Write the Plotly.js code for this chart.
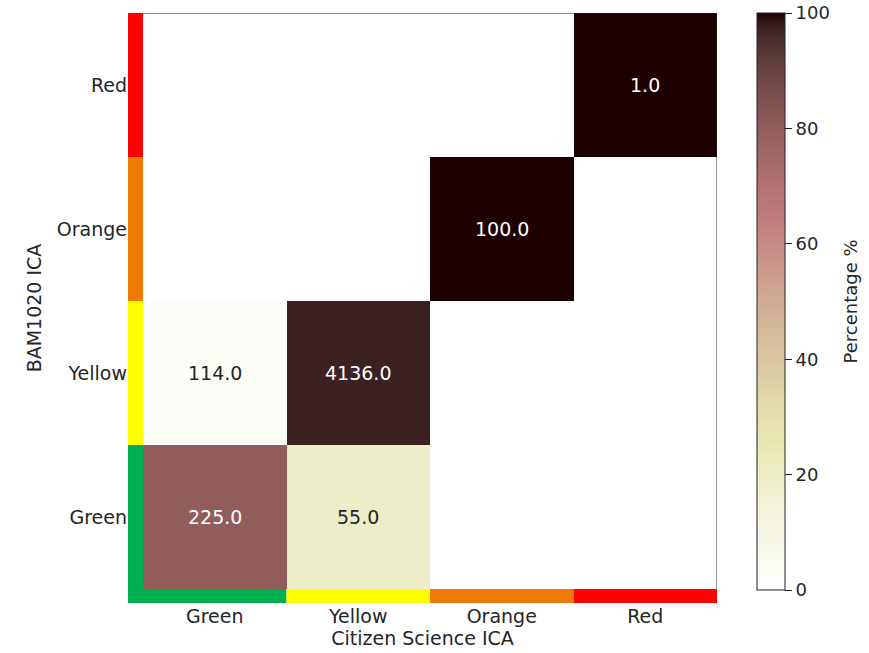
<!DOCTYPE html>
<html>
<head>
<meta charset="utf-8">
<script src="https://cdn.plot.ly/plotly-3.0.1.min.js"></script>
<style>
  html, body { margin: 0; padding: 0; background: #ffffff; }
  #chart { width: 869px; height: 653px; }
</style>
</head>
<body>
<div id="chart"></div>
<script>
// Air-quality category agreement: rows = BAM1020 ICA, columns = Citizen Science ICA
const categories = ["Green", "Yellow", "Orange", "Red"];
const categoryColors = ["#00b050", "#ffff00", "#ef7a05", "#ff0000"];

// Counts per BAM1020 category (rows, bottom to top), split by Citizen Science category
const countsGreen  = [225, 55, 0, 0];
const countsYellow = [114, 4136, 0, 0];
const countsOrange = [0, 0, 100, 0];
const countsRed    = [0, 0, 0, 1];
const counts = [countsGreen, countsYellow, countsOrange, countsRed];

const colorbarTicks = [0, 20, 40, 60, 80, 100];

// Row-normalised percentages; empty cells stay blank
const percent = counts.map(row => {
  const total = row.reduce((a, b) => a + b, 0);
  return row.map(v => (v > 0 ? 100 * v / total : null));
});

// Reversed "pink" colormap: pink = sqrt((2*gray + hot)/3)
function hot(t) {
  const r = t < 0.365079 ? 0.0416 + (1 - 0.0416) * t / 0.365079 : 1;
  const g = t < 0.365079 ? 0 : (t < 0.746032 ? (t - 0.365079) / (0.746032 - 0.365079) : 1);
  const b = t < 0.746032 ? 0 : (t - 0.746032) / (1 - 0.746032);
  return [r, g, b];
}
function pink(t) {
  const h = hot(t);
  return h.map(c => Math.sqrt((2 * t + c) / 3));
}
function pinkR(v) { return pink(1 - v); }
function rgbStr(c) {
  return "rgb(" + c.map(x => Math.round(Math.min(1, Math.max(0, x)) * 255)).join(",") + ")";
}
const colorscale = [];
for (let i = 0; i <= 50; i++) {
  const v = i / 50;
  colorscale.push([v, rgbStr(pinkR(v))]);
}
function luminance(c) {
  const lin = c.map(x => (x <= 0.03928 ? x / 12.92 : Math.pow((x + 0.055) / 1.055, 2.4)));
  return 0.2126 * lin[0] + 0.7152 * lin[1] + 0.0722 * lin[2];
}

const idx = categories.map((_, i) => i);
const textColor = "#262626";
const axisFont = { family: "DejaVu Sans", size: 19, color: textColor };

const heat = {
  type: "heatmap",
  x: idx,
  y: idx,
  z: percent,
  zmin: 0,
  zmax: 100,
  colorscale: colorscale,
  hoverongaps: false,
  colorbar: {
    x: 1.068, xanchor: "left", xpad: 0,
    y: 1, yanchor: "top", ypad: 0,
    len: 577, lenmode: "pixels",
    thickness: 28,
    outlinewidth: 1, outlinecolor: "#222222",
    tickvals: colorbarTicks,
    ticks: "outside", ticklen: 7, tickwidth: 1, tickcolor: "#222222",
    tickfont: { family: "DejaVu Sans", size: 18, color: textColor }
  }
};

// Cell annotations: count labels, light text on dark cells
const annotations = [];
counts.forEach((row, i) => {
  row.forEach((v, j) => {
    if (v > 0) {
      const c = pinkR(percent[i][j] / 100);
      annotations.push({
        x: j, y: i, xref: "x", yref: "y",
        text: v.toFixed(1),
        showarrow: false,
        font: { family: "DejaVu Sans", size: 19, color: luminance(c) > 0.408 ? textColor : "#ffffff" }
      });
    }
  });
});

// Colorbar label
annotations.push({
  xref: "paper", yref: "paper",
  x: 1.2275, y: 0.511,
  xanchor: "center", yanchor: "middle",
  text: "Percentage %",
  textangle: -90,
  showarrow: false,
  font: { family: "DejaVu Sans", size: 18, color: textColor }
});

// Axis extents leave room for the coloured category strips
const xStrip = 15 / 143.5;
const yStrip = 14 / 144;
const xMin = -0.5 - xStrip;
const yMin = -0.5 - yStrip;
const last = categories.length - 0.5;

const frameLine = { color: "#222222", width: 1 };
const shapes = [
  // top and right edges of the matrix frame
  { type: "line", xref: "x", yref: "y", x0: -0.5, x1: last, y0: last, y1: last, line: frameLine, layer: "above" },
  { type: "line", xref: "x", yref: "y", x0: last, x1: last, y0: -0.5, y1: last, line: frameLine, layer: "above" }
];
categories.forEach((cat, i) => {
  // left strip (rows)
  shapes.push({
    type: "rect", xref: "x", yref: "y",
    x0: xMin, x1: -0.5, y0: i === 0 ? yMin : i - 0.5, y1: i + 0.5,
    line: { width: 0 }, fillcolor: categoryColors[i], layer: "above"
  });
  // bottom strip (columns)
  shapes.push({
    type: "rect", xref: "x", yref: "y",
    x0: i === 0 ? xMin : i - 0.5, x1: i + 0.5, y0: yMin, y1: -0.5,
    line: { width: 0 }, fillcolor: categoryColors[i], layer: "above"
  });
});

const layout = {
  width: 869,
  height: 653,
  margin: { l: 128, r: 152, t: 13, b: 50, pad: 0 },
  paper_bgcolor: "#ffffff",
  plot_bgcolor: "#ffffff",
  font: { family: "DejaVu Sans", color: textColor },
  xaxis: {
    range: [xMin, last],
    tickvals: idx,
    ticktext: categories,
    ticks: "",
    showgrid: false, zeroline: false, showline: false,
    tickfont: axisFont,
    ticklabelstandoff: 0,
    title: { text: "Citizen Science ICA", font: axisFont, standoff: 5 },
    fixedrange: true
  },
  yaxis: {
    range: [yMin, last],
    tickvals: idx,
    ticktext: categories,
    ticks: "",
    showgrid: false, zeroline: false, showline: false,
    tickfont: axisFont,
    ticklabelstandoff: 0,
    title: { text: "BAM1020 ICA", font: axisFont, standoff: 10 },
    fixedrange: true
  },
  shapes: shapes,
  annotations: annotations
};

Plotly.newPlot("chart", [heat], layout, { displayModeBar: false, staticPlot: true });
</script>
</body>
</html>
